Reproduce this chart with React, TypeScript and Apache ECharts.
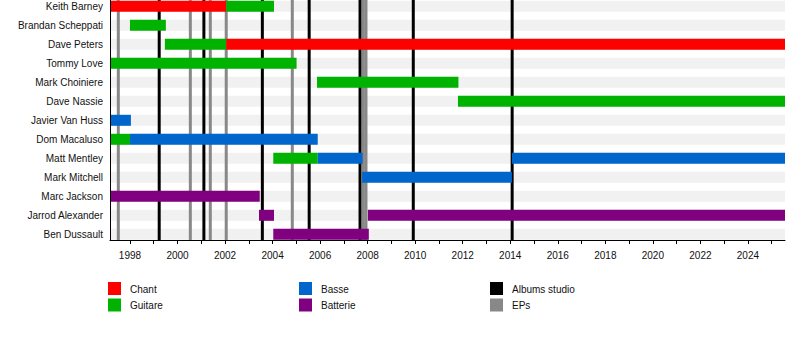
import React, { useEffect, useRef } from "react";
import * as echarts from "echarts";

const FONT = "'Liberation Sans', Arial, Helvetica, sans-serif";

const members = [
  "Keith Barney",
  "Brandan Scheppati",
  "Dave Peters",
  "Tommy Love",
  "Mark Choiniere",
  "Dave Nassie",
  "Javier Van Huss",
  "Dom Macaluso",
  "Matt Mentley",
  "Mark Mitchell",
  "Marc Jackson",
  "Jarrod Alexander",
  "Ben Dussault",
];

const roles = ["Chant", "Guitare", "Basse", "Batterie"];
const roleColors = ["#ff0000", "#00b300", "#0066cc", "#800080"];

const START = 1997.16;
const NOW = 2025.56;

// [member, role, start, end]
const stints: [string, string, number, number][] = [
  ["Keith Barney", "Chant", START, 2002.05],
  ["Keith Barney", "Guitare", 2002.05, 2004.06],
  ["Brandan Scheppati", "Guitare", 1998.0, 1999.51],
  ["Dave Peters", "Guitare", 1999.47, 2002.05],
  ["Dave Peters", "Chant", 2002.05, NOW],
  ["Tommy Love", "Guitare", START, 2005.01],
  ["Mark Choiniere", "Guitare", 2005.87, 2011.82],
  ["Dave Nassie", "Guitare", 2011.8, NOW],
  ["Javier Van Huss", "Basse", START, 1998.04],
  ["Dom Macaluso", "Guitare", START, 1998.0],
  ["Dom Macaluso", "Basse", 1998.0, 2005.9],
  ["Matt Mentley", "Guitare", 2004.03, 2005.9],
  ["Matt Mentley", "Basse", 2005.9, 2007.79],
  ["Matt Mentley", "Basse", 2014.07, NOW],
  ["Mark Mitchell", "Basse", 2007.77, 2014.07],
  ["Marc Jackson", "Batterie", START, 2003.46],
  ["Jarrod Alexander", "Batterie", 2003.43, 2004.06],
  ["Jarrod Alexander", "Batterie", 2008.01, NOW],
  ["Ben Dussault", "Batterie", 2004.03, 2008.05],
];

const albumYears = [1999.23, 2001.11, 2003.57, 2005.54, 2007.68, 2009.92, 2014.08];
const epYears = [1997.51, 2000.54, 2001.38, 2002.05, 2004.83, 2007.82, 2007.93];

const tickYears = [
  1998, 1999, 2000, 2001, 2002, 2003, 2004, 2005, 2006, 2007, 2008, 2009, 2010,
  2011, 2012, 2013, 2014, 2015, 2016, 2017, 2018, 2019, 2020, 2021, 2022, 2023,
  2024, 2025,
];
const labelYears = [
  1998, 2000, 2002, 2004, 2006, 2008, 2010, 2012, 2014, 2016, 2018, 2020, 2022, 2024,
];

const legendItems = [
  { name: "Chant", color: "#ff0000" },
  { name: "Guitare", color: "#00b300" },
  { name: "Basse", color: "#0066cc" },
  { name: "Batterie", color: "#800080" },
  { name: "Albums studio", color: "#000000" },
  { name: "EPs", color: "#888888" },
];

export default function App() {
  const ref = useRef<HTMLDivElement>(null);

  useEffect(() => {
    document.body.style.margin = "0";
    if (!ref.current) return;
    const chart = echarts.init(ref.current, undefined, { renderer: "svg" });

    const barData = stints.map(([m, r, s, e]) => [
      members.indexOf(m),
      s,
      e,
      roles.indexOf(r),
    ]);
    const stripeData = members.map((_, i) => [i, START, NOW]);
    const lineData = [
      ...epYears.map((y) => [y, 0]),
      ...albumYears.map((y) => [y, 1]),
    ];

    const legendGraphics: any[] = [];
    const colX = [108, 299, 490];
    const rowY = [282, 298.5];
    legendItems.forEach((it, i) => {
      const col = Math.floor(i / 2);
      const row = i % 2;
      legendGraphics.push({
        type: "rect",
        left: colX[col],
        top: rowY[row],
        shape: { width: 13, height: 13 },
        style: { fill: it.color },
      });
      legendGraphics.push({
        type: "text",
        left: colX[col] + 22,
        top: rowY[row] + 2,
        style: {
          text: it.name,
          fill: "#111",
          font: `10px ${FONT}`,
        },
      });
    });

    chart.setOption({
      animation: false,
      textStyle: { fontFamily: FONT },
      grid: [
        { left: 110, width: 675, top: 0, height: 240, outerBoundsMode: "none" },
        { left: 110, width: 675, top: -3.2, height: 247, outerBoundsMode: "none" },
      ],
      xAxis: [
        {
          type: "value",
          gridIndex: 0,
          min: START,
          max: NOW,
          z: 4,
          splitLine: { show: false },
          axisLine: { show: true, lineStyle: { color: "#000", width: 1 } },
          axisTick: {
            show: true,
            length: 4,
            customValues: tickYears,
            lineStyle: { color: "#000" },
          },
          axisLabel: {
            show: true,
            customValues: labelYears,
            formatter: (v: number) => String(v),
            fontSize: 10,
            color: "#111",
            margin: 10,
            fontFamily: FONT,
          },
        },
        {
          type: "value",
          gridIndex: 1,
          min: START,
          max: NOW,
          show: false,
        },
      ],
      yAxis: [
        {
          type: "value",
          gridIndex: 0,
          min: 0,
          max: 1,
          z: 4,
          splitLine: { show: false },
          axisLine: { show: true, lineStyle: { color: "#000", width: 1 } },
          axisTick: { show: false },
          axisLabel: { show: false },
        },
        {
          type: "category",
          gridIndex: 1,
          inverse: true,
          data: members,
          axisLine: { show: false },
          axisTick: { show: false },
          splitLine: { show: false },
          axisLabel: {
            fontSize: 10,
            color: "#111",
            margin: 7,
            fontFamily: FONT,
          },
        },
      ],
      series: [
        {
          type: "custom",
          name: "stripes",
          xAxisIndex: 1,
          yAxisIndex: 1,
          z: 1,
          silent: true,
          data: stripeData,
          encode: { x: [1, 2], y: 0 },
          renderItem: (params: any, api: any) => {
            const row = api.value(0);
            const p0 = api.coord([api.value(1), row]);
            const p1 = api.coord([api.value(2), row]);
            return {
              type: "rect",
              shape: { x: p0[0], y: p0[1] - 5.5, width: p1[0] - p0[0], height: 11 },
              style: { fill: "#f1f1f1" },
            };
          },
        },
        {
          type: "custom",
          name: "releases",
          xAxisIndex: 0,
          yAxisIndex: 0,
          z: 2,
          silent: true,
          data: lineData,
          encode: { x: 0 },
          renderItem: (params: any, api: any) => {
            const yr = api.value(0);
            const kind = api.value(1);
            const top = api.coord([yr, 1]);
            const bot = api.coord([yr, 0]);
            return {
              type: "line",
              shape: { x1: top[0], y1: top[1], x2: bot[0], y2: bot[1] },
              style: {
                stroke: kind === 1 ? "#000000" : "#888888",
                lineWidth: 3,
              },
            };
          },
        },
        {
          type: "custom",
          name: "stints",
          xAxisIndex: 1,
          yAxisIndex: 1,
          z: 3,
          data: barData,
          encode: { x: [1, 2], y: 0 },
          renderItem: (params: any, api: any) => {
            const row = api.value(0);
            const p0 = api.coord([api.value(1), row]);
            const p1 = api.coord([api.value(2), row]);
            return {
              type: "rect",
              shape: { x: p0[0], y: p0[1] - 5.5, width: p1[0] - p0[0], height: 11 },
              style: { fill: roleColors[api.value(3)] },
            };
          },
        },
      ],
      graphic: legendGraphics,
    });

    return () => chart.dispose();
  }, []);

  return <div ref={ref} style={{ width: 800, height: 360 }} />;
}
